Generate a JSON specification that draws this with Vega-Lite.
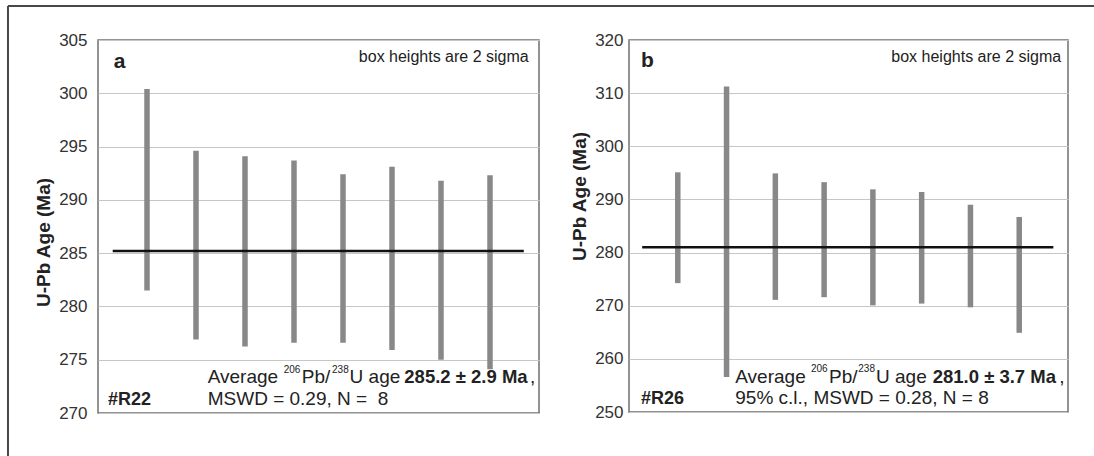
{
  "$schema": "https://vega.github.io/schema/vega-lite/v6.json",
  "background": "white",
  "padding": {"left": 6, "top": 4, "right": 0, "bottom": 0},
  "config": {
    "view": {"stroke": null},
    "font": "Liberation Sans",
    "text": {"font": "Liberation Sans", "color": "#222"},
    "axis": {"labelFont": "Liberation Sans", "titleFont": "Liberation Sans"}
  },
  "datasets": {
    "r22": [
      {"spot": 1, "lo": 281.5, "hi": 300.4},
      {"spot": 2, "lo": 276.9, "hi": 294.6},
      {"spot": 3, "lo": 276.25, "hi": 294.1},
      {"spot": 4, "lo": 276.6, "hi": 293.7},
      {"spot": 5, "lo": 276.6, "hi": 292.4},
      {"spot": 6, "lo": 275.9, "hi": 293.1},
      {"spot": 7, "lo": 275.0, "hi": 291.8},
      {"spot": 8, "lo": 274.1, "hi": 292.3}
    ],
    "r26": [
      {"spot": 1, "lo": 274.25, "hi": 295.1},
      {"spot": 2, "lo": 256.6, "hi": 311.25},
      {"spot": 3, "lo": 271.1, "hi": 294.9},
      {"spot": 4, "lo": 271.6, "hi": 293.25},
      {"spot": 5, "lo": 270.06, "hi": 291.9},
      {"spot": 6, "lo": 270.4, "hi": 291.4},
      {"spot": 7, "lo": 269.7, "hi": 289.0},
      {"spot": 8, "lo": 264.9, "hi": 286.7}
    ],
    "one": [{"k": 0}]
  },
  "hconcat": [
    {
      "width": 441, "height": 373,
      "view": {"stroke": "#707070", "strokeWidth": 1.5},
      "encoding": {
        "x": {"type": "quantitative", "scale": {"domain": [0, 9], "nice": false, "zero": false}, "axis": null},
        "y": {"type": "quantitative", "scale": {"domain": [270, 305], "nice": false, "zero": false},
          "axis": {"values": [270, 275, 280, 285, 290, 295, 300, 305], "grid": true, "gridColor": "#c6c6c6", "gridWidth": 1,
            "ticks": false, "tickSize": 0, "domain": false, "labelFontSize": 17, "labelColor": "#333", "labelPadding": 11,
            "title": "U-Pb Age (Ma)", "titleFontSize": 19, "titleFontWeight": "bold", "titleColor": "#222",
            "titleX": -45, "titleY": 202}}
      },
      "layer": [
        {
          "data": {"name": "one"},
          "mark": {"type": "rule", "color": "#484848", "strokeWidth": 2, "clip": false},
          "encoding": {"x": {"datum": -1.837}, "x2": {"datum": 20.33}, "y": {"datum": 308.19}}
        },
        {
          "data": {"name": "one"},
          "mark": {"type": "rule", "color": "#484848", "strokeWidth": 2, "clip": false},
          "encoding": {"x": {"datum": -1.837}, "y": {"datum": 308.19}, "y2": {"datum": 265.97}}
        },
        {
          "data": {"name": "r22"},
          "mark": {"type": "rule", "color": "#888888", "strokeWidth": 5.5},
          "encoding": {"x": {"field": "spot"}, "y": {"field": "lo"}, "y2": {"field": "hi"}}
        },
        {
          "data": {"name": "one"},
          "mark": {"type": "rule", "color": "#111111", "strokeWidth": 2.6},
          "encoding": {"x": {"datum": 0.3}, "x2": {"datum": 8.69}, "y": {"datum": 285.2}}
        },
        {
          "data": {"name": "one"},
          "mark": {"type": "text", "align": "left", "baseline": "alphabetic", "fontSize": 21, "fontWeight": "bold"},
          "encoding": {"x": {"datum": 0.32}, "y": {"datum": 302.4}, "text": {"value": "a"}}
        },
        {
          "data": {"name": "one"},
          "mark": {"type": "text", "align": "right", "baseline": "alphabetic", "fontSize": 16},
          "encoding": {"x": {"datum": 8.79}, "y": {"datum": 302.94}, "text": {"value": "box heights are 2 sigma"}}
        },
        {
          "data": {"name": "one"},
          "mark": {"type": "text", "align": "left", "baseline": "alphabetic", "fontSize": 18, "fontWeight": "bold"},
          "encoding": {"x": {"datum": 0.204}, "y": {"datum": 270.72}, "text": {"value": "#R22"}}
        },
        {
          "data": {"name": "one"},
          "mark": {"type": "text", "align": "left", "baseline": "alphabetic", "fontSize": 19},
          "encoding": {"x": {"datum": 2.239}, "y": {"datum": 272.84}, "text": {"value": "Average"}}
        },
        {
          "data": {"name": "one"},
          "mark": {"type": "text", "align": "left", "baseline": "alphabetic", "fontSize": 10},
          "encoding": {"x": {"datum": 3.79}, "y": {"datum": 273.78}, "text": {"value": "206"}}
        },
        {
          "data": {"name": "one"},
          "mark": {"type": "text", "align": "left", "baseline": "alphabetic", "fontSize": 19},
          "encoding": {"x": {"datum": 4.16}, "y": {"datum": 272.84}, "text": {"value": "Pb/"}}
        },
        {
          "data": {"name": "one"},
          "mark": {"type": "text", "align": "left", "baseline": "alphabetic", "fontSize": 10},
          "encoding": {"x": {"datum": 4.776}, "y": {"datum": 273.78}, "text": {"value": "238"}}
        },
        {
          "data": {"name": "one"},
          "mark": {"type": "text", "align": "left", "baseline": "alphabetic", "fontSize": 19},
          "encoding": {"x": {"datum": 5.135}, "y": {"datum": 272.84}, "text": {"value": "U age"}}
        },
        {
          "data": {"name": "one"},
          "mark": {"type": "text", "align": "left", "baseline": "alphabetic", "fontSize": 18.5, "fontWeight": "bold"},
          "encoding": {"x": {"datum": 6.251}, "y": {"datum": 272.84}, "text": {"value": "285.2 ± 2.9 Ma"}}
        },
        {
          "data": {"name": "one"},
          "mark": {"type": "text", "align": "left", "baseline": "alphabetic", "fontSize": 19},
          "encoding": {"x": {"datum": 8.816}, "y": {"datum": 272.84}, "text": {"value": ","}}
        },
        {
          "data": {"name": "one"},
          "mark": {"type": "text", "align": "left", "baseline": "alphabetic", "fontSize": 19},
          "encoding": {"x": {"datum": 2.239}, "y": {"datum": 270.72}, "text": {"value": "MSWD = 0.29, N =\u00a0 8"}}
        }
      ]
    },
    {
      "width": 439, "height": 372,
      "view": {"stroke": "#707070", "strokeWidth": 1.5},
      "encoding": {
        "x": {"type": "quantitative", "scale": {"domain": [0, 9], "nice": false, "zero": false}, "axis": null},
        "y": {"type": "quantitative", "scale": {"domain": [250, 320], "nice": false, "zero": false},
          "axis": {"values": [250, 260, 270, 280, 290, 300, 310, 320], "grid": true, "gridColor": "#c6c6c6", "gridWidth": 1,
            "ticks": false, "tickSize": 0, "domain": false, "labelFontSize": 17, "labelColor": "#333", "labelPadding": 6,
            "title": "U-Pb Age (Ma)", "titleFontSize": 19, "titleFontWeight": "bold", "titleColor": "#222",
            "titleX": -40, "titleY": 156}}
      },
      "layer": [
        {
          "data": {"name": "r26"},
          "mark": {"type": "rule", "color": "#888888", "strokeWidth": 5.5},
          "encoding": {"x": {"field": "spot"}, "y": {"field": "lo"}, "y2": {"field": "hi"}}
        },
        {
          "data": {"name": "one"},
          "mark": {"type": "rule", "color": "#111111", "strokeWidth": 2.6},
          "encoding": {"x": {"datum": 0.27}, "x2": {"datum": 8.7}, "y": {"datum": 281.0}}
        },
        {
          "data": {"name": "one"},
          "mark": {"type": "text", "align": "left", "baseline": "alphabetic", "fontSize": 21, "fontWeight": "bold"},
          "encoding": {"x": {"datum": 0.246}, "y": {"datum": 314.98}, "text": {"value": "b"}}
        },
        {
          "data": {"name": "one"},
          "mark": {"type": "text", "align": "right", "baseline": "alphabetic", "fontSize": 16},
          "encoding": {"x": {"datum": 8.86}, "y": {"datum": 315.92}, "text": {"value": "box heights are 2 sigma"}}
        },
        {
          "data": {"name": "one"},
          "mark": {"type": "text", "align": "left", "baseline": "alphabetic", "fontSize": 18, "fontWeight": "bold"},
          "encoding": {"x": {"datum": 0.246}, "y": {"datum": 251.45}, "text": {"value": "#R26"}}
        },
        {
          "data": {"name": "one"},
          "mark": {"type": "text", "align": "left", "baseline": "alphabetic", "fontSize": 19},
          "encoding": {"x": {"datum": 2.179}, "y": {"datum": 255.51}, "text": {"value": "Average"}}
        },
        {
          "data": {"name": "one"},
          "mark": {"type": "text", "align": "left", "baseline": "alphabetic", "fontSize": 10},
          "encoding": {"x": {"datum": 3.731}, "y": {"datum": 257.45}, "text": {"value": "206"}}
        },
        {
          "data": {"name": "one"},
          "mark": {"type": "text", "align": "left", "baseline": "alphabetic", "fontSize": 19},
          "encoding": {"x": {"datum": 4.1}, "y": {"datum": 255.51}, "text": {"value": "Pb/"}}
        },
        {
          "data": {"name": "one"},
          "mark": {"type": "text", "align": "left", "baseline": "alphabetic", "fontSize": 10},
          "encoding": {"x": {"datum": 4.7}, "y": {"datum": 257.45}, "text": {"value": "238"}}
        },
        {
          "data": {"name": "one"},
          "mark": {"type": "text", "align": "left", "baseline": "alphabetic", "fontSize": 19},
          "encoding": {"x": {"datum": 5.064}, "y": {"datum": 255.51}, "text": {"value": "U age"}}
        },
        {
          "data": {"name": "one"},
          "mark": {"type": "text", "align": "left", "baseline": "alphabetic", "fontSize": 18.5, "fontWeight": "bold"},
          "encoding": {"x": {"datum": 6.226}, "y": {"datum": 255.51}, "text": {"value": "281.0 ± 3.7 Ma"}}
        },
        {
          "data": {"name": "one"},
          "mark": {"type": "text", "align": "left", "baseline": "alphabetic", "fontSize": 19},
          "encoding": {"x": {"datum": 8.82}, "y": {"datum": 255.51}, "text": {"value": ","}}
        },
        {
          "data": {"name": "one"},
          "mark": {"type": "text", "align": "left", "baseline": "alphabetic", "fontSize": 19},
          "encoding": {"x": {"datum": 2.179}, "y": {"datum": 251.45}, "text": {"value": "95% c.l., MSWD = 0.28, N = 8"}}
        }
      ]
    }
  ],
  "spacing": 90,
  "bounds": "flush"
}
